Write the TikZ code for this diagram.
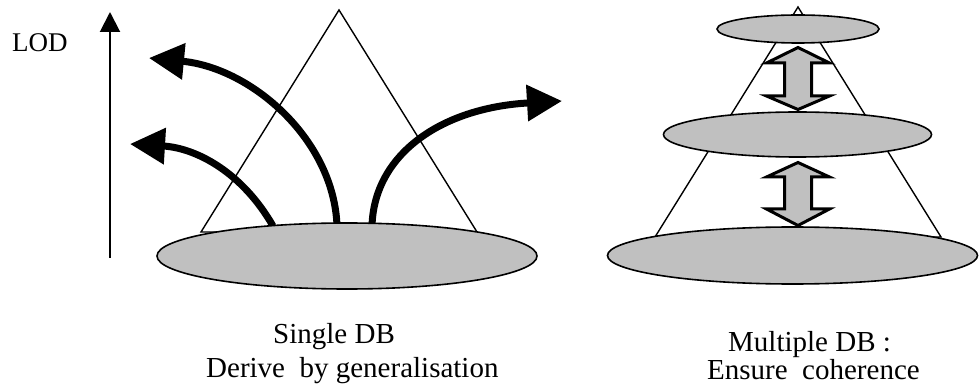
\documentclass[tikz,border=0pt]{standalone}
\usepackage{fontspec}
\setmainfont{Liberation Serif}
\usetikzlibrary{arrows.meta}
\definecolor{dbgray}{HTML}{C0C0C0}
\tikzset{
  cone/.style={draw=black, line width=1.4pt, line join=miter},
  dbdisc/.style={draw=black, fill=dbgray, line width=1.6pt},
  genarrow/.style={line width=7pt, -{Triangle[length=35pt,width=35pt]}},
  lodaxis/.style={line width=2pt, -{Triangle[length=20pt,width=20pt]}},
  linkarrow/.style={draw=black, fill=dbgray, line width=3pt, line join=miter},
  caption/.style={anchor=base west, inner sep=0pt, font=\fontsize{29}{35}\selectfont},
}
\begin{document}
\begin{tikzpicture}[x=1pt, y=-1pt]
\useasboundingbox (0,0) rectangle (979,387);

% level-of-detail axis
\coordinate (axisfoot) at (110,258);
\coordinate (axistop) at (110,12);
\draw[lodaxis] (axisfoot) -- (axistop);
\node[anchor=base west, inner sep=0pt, font=\fontsize{27}{32}\selectfont] (lod) at (12,52) {LOD};

% single database: one detailed base, coarser levels derived from it
\draw[cone] (339,10) -- (201,232) -- (477,232) -- cycle;
\coordinate (s1) at (273,226);
\coordinate (t1) at (130,144);
\coordinate (s2) at (337,226);
\coordinate (t2) at (149,58);
\coordinate (s3) at (372,226);
\coordinate (t3) at (562,101);
\draw[genarrow] (s1) .. controls (242,172) and (196,148) .. (t1);
\draw[genarrow] (s2) .. controls (334,140) and (252,68) .. (t2);
\draw[genarrow] (s3) .. controls (374,155) and (440,108) .. (t3);
\draw[dbdisc] (347,256) ellipse [x radius=190, y radius=33];

\node[caption] (single) at (273,343) {Single DB};
\node[caption] (derive) at (206,377) {Derive~~by generalisation};

% multiple databases: one per level, kept consistent
\draw[cone] (798,7) -- (655,237) -- (941,237) -- cycle;
\draw[dbdisc] (798,29) ellipse [x radius=81, y radius=14];
\draw[dbdisc] (797.5,134.5) ellipse [x radius=134, y radius=22.5];
\draw[dbdisc] (792.5,255.5) ellipse [x radius=185, y radius=28.5];

\draw[linkarrow] (798,47.5) -- (829.5,63) -- (811.5,63) -- (811.5,96) -- (829.5,96)
  -- (798,109.5) -- (766.5,96) -- (784.5,96) -- (784.5,63) -- (766.5,63) -- cycle;
\draw[linkarrow] (798,162.5) -- (829.5,177) -- (811.5,177) -- (811.5,209) -- (829.5,209)
  -- (798,225.5) -- (766.5,209) -- (784.5,209) -- (784.5,177) -- (766.5,177) -- cycle;

\node[caption] (multiple) at (728,351) {Multiple DB :};
\node[caption] (ensure) at (707,379) {Ensure~~coherence};
\end{tikzpicture}
\end{document}
